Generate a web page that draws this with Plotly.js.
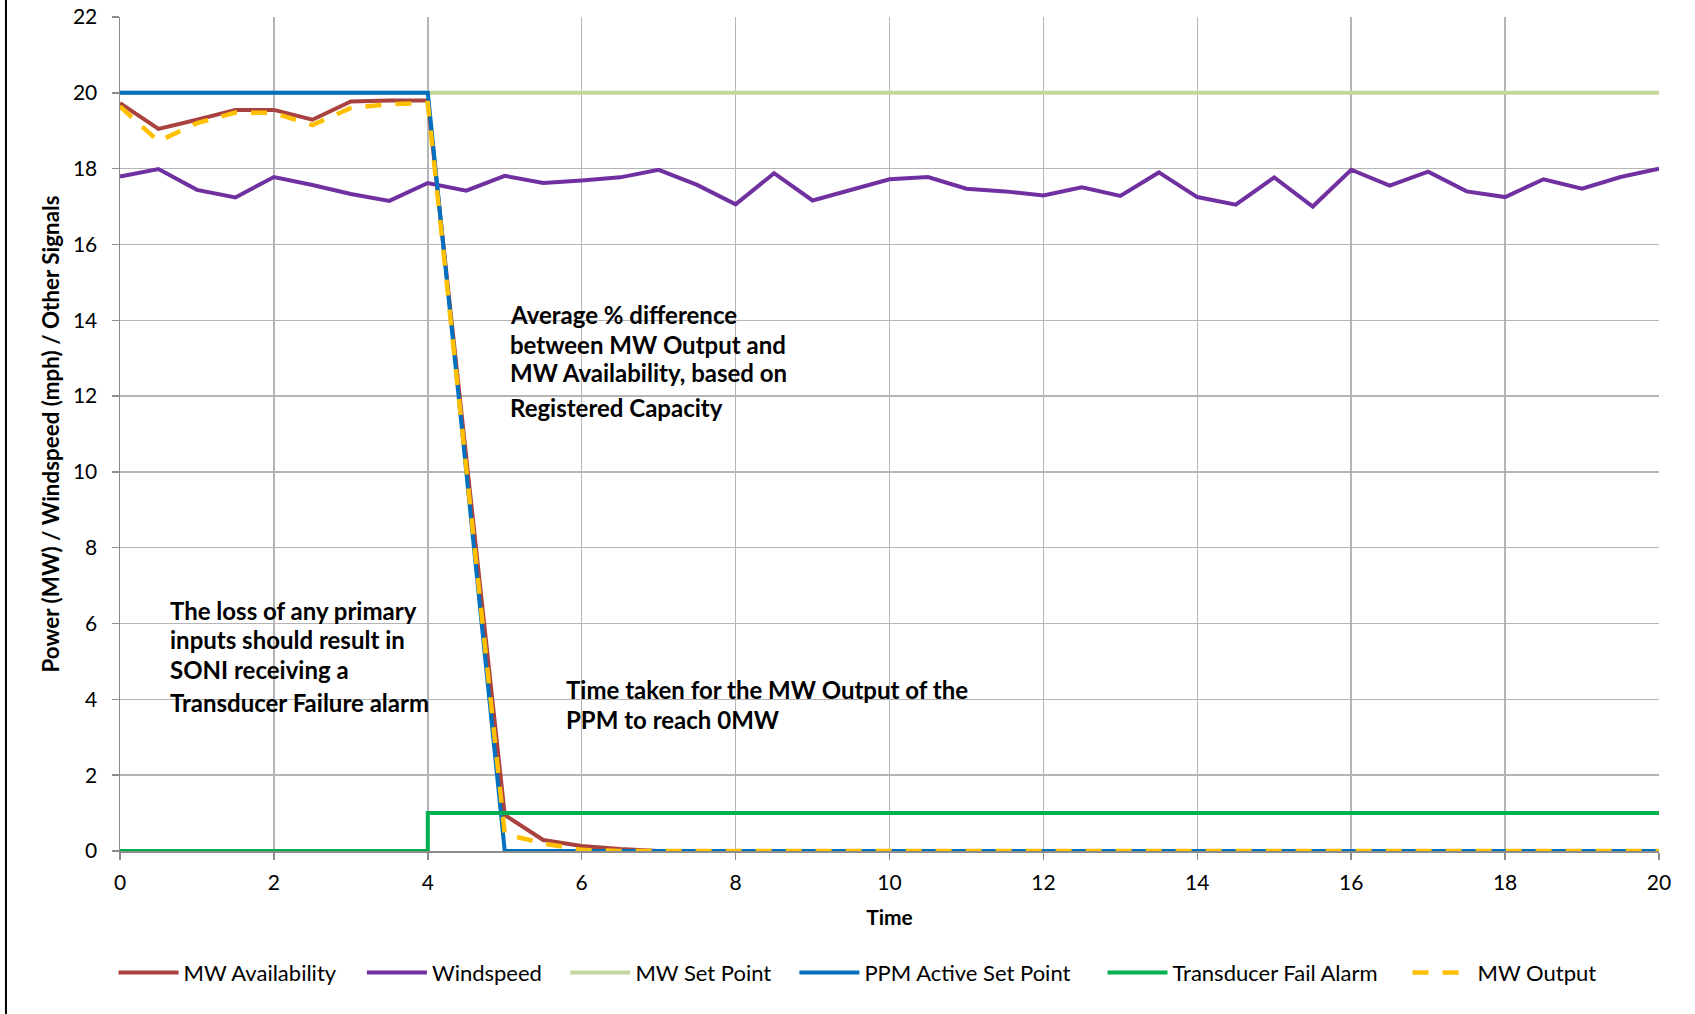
<!DOCTYPE html>
<html>
<head>
<meta charset="utf-8">
<script src="https://cdn.plot.ly/plotly-3.0.1.min.js"></script>
<style>
html,body{margin:0;padding:0;background:#fff;}
#chart{width:1695px;height:1014px;}
</style>
</head>
<body>
<div id="chart"></div>
<script>
const time = [0,0.5,1,1.5,2,2.5,3,3.5,4,4.5,5,5.5,6,6.5,7,7.5,8,8.5,9,9.5,10,10.5,11,11.5,12,12.5,13,13.5,14,14.5,15,15.5,16,16.5,17,17.5,18,18.5,19,19.5,20];
const mwAvailability = [19.73,19.05,19.29,19.55,19.55,19.29,19.77,19.8,19.8,10.4,0.95,0.29,0.13,0.05,0,0,0,0,0,0,0,0,0,0,0,0,0,0,0,0,0,0,0,0,0,0,0,0,0,0,0];
const windspeed = [17.79,17.99,17.44,17.24,17.78,17.57,17.33,17.15,17.62,17.42,17.81,17.62,17.69,17.77,17.97,17.57,17.06,17.88,17.16,17.44,17.72,17.78,17.47,17.40,17.29,17.51,17.28,17.9,17.25,17.05,17.77,17.0,17.97,17.55,17.92,17.40,17.25,17.72,17.47,17.78,18.0];
const mwSetPoint = [20,20,20,20,20,20,20,20,20,20,20,20,20,20,20,20,20,20,20,20,20,20,20,20,20,20,20,20,20,20,20,20,20,20,20,20,20,20,20,20,20];
const ppmActiveSetPoint = [20,20,20,20,20,20,20,20,20,10,0,0,0,0,0,0,0,0,0,0,0,0,0,0,0,0,0,0,0,0,0,0,0,0,0,0,0,0,0,0,0];
const transducerFailAlarm = [0,0,0,0,0,0,0,0,1,1,1,1,1,1,1,1,1,1,1,1,1,1,1,1,1,1,1,1,1,1,1,1,1,1,1,1,1,1,1,1,1];
const mwOutput = [19.64,18.72,19.2,19.48,19.47,19.15,19.6,19.7,19.73,10.2,0.45,0.2,0.03,0,0,0,0,0,0,0,0,0,0,0,0,0,0,0,0,0,0,0,0,0,0,0,0,0,0,0,0];

const seriesNames = ['MW Availability','Windspeed','MW Set Point','PPM Active Set Point','Transducer Fail Alarm','MW Output'];
const seriesColors = ['#A9423F','#7030A0','#C3D69B','#0070C0','#00B050','#FFC000'];

const noteAverage = ['Average % difference','between MW Output and','MW Availability, based on','Registered Capacity'];
const noteAverageX = 5.04;
const noteAverageY = [14.15,13.35,12.61,11.69];
const noteLoss = ['The loss of any primary','inputs should result in','SONI receiving a','Transducer Failure alarm'];
const noteLossX = 0.63;
const noteLossY = [6.34,5.58,4.80,3.91];
const noteTime = ['Time taken for the MW Output of the','PPM to reach 0MW'];
const noteTimeX = 5.77;
const noteTimeY = [4.27,3.46];

const FONT = 'Lato, Carlito, Calibri, sans-serif';
const legendIds = ['legend','legend2','legend3','legend4','legend5','legend6'];
const legendX = [-0.0042, 0.1572, 0.2894, 0.4382, 0.6384, 0.8366];

const series = [mwAvailability, windspeed, mwSetPoint, ppmActiveSetPoint, transducerFailAlarm, mwOutput];
const traces = series.map((vals, i) => ({
  x: time, y: vals, name: seriesNames[i], mode: 'lines', legend: legendIds[i],
  line: {color: seriesColors[i], width: 4}
}));
traces[4].line.shape = 'hv';
traces[5].line.width = 4.5;
traces[5].line.dash = '16px,14px';

const annotations = [];
function addNote(lines, x, ys) {
  lines.forEach((t, i) => annotations.push({
    text: t, x: x, y: ys[i], xref: 'x', yref: 'y', xanchor: 'left', yanchor: 'middle',
    showarrow: false, font: {family: FONT, size: 24, color: '#000', weight: 'bold'}
  }));
}
addNote(noteAverage, noteAverageX, noteAverageY);
addNote(noteLoss, noteLossX, noteLossY);
addNote(noteTime, noteTimeX, noteTimeY);

const layout = {
  width: 1695, height: 1014,
  margin: {l: 120, r: 36, t: 17, b: 163},
  paper_bgcolor: '#fff', plot_bgcolor: '#fff',
  font: {family: FONT, size: 20, color: '#000'},
  showlegend: true,
  xaxis: {
    range: [0, 20], dtick: 2, tick0: 0, showgrid: true, gridcolor: '#B5B5B5', gridwidth: 1.5,
    showline: true, linecolor: '#8C8C8C', linewidth: 1.5, zeroline: false,
    ticks: 'outside', ticklen: 7, tickcolor: '#8C8C8C', tickwidth: 1.5,
    tickfont: {family: FONT, size: 21, color: '#000'}, ticklabelstandoff: 5,
    title: {text: 'Time', font: {family: FONT, size: 21, color: '#000', weight: 'bold'}, standoff: 17}
  },
  yaxis: {
    range: [0, 22], dtick: 2, tick0: 0, showgrid: true, gridcolor: '#B5B5B5', gridwidth: 1.5,
    showline: true, linecolor: '#8C8C8C', linewidth: 1.5, zeroline: false,
    ticks: 'outside', ticklen: 7, tickcolor: '#8C8C8C', tickwidth: 1.5,
    tickfont: {family: FONT, size: 21, color: '#000'}, ticklabelstandoff: 10,
    title: {text: 'Power (MW) / Windspeed (mph) / Other Signals', font: {family: FONT, size: 22.4, color: '#000', weight: 'bold'}, standoff: 7}
  },
  annotations: annotations,
  shapes: [
    {type: 'line', xref: 'paper', yref: 'paper', x0: -0.0741, x1: -0.0741, y0: -0.2, y1: 1.03,
     line: {color: '#000', width: 2}}
  ]
};
legendIds.forEach((id, i) => {
  layout[id] = {orientation: 'h', x: legendX[i], xanchor: 'left', y: -0.146, yanchor: 'middle',
    bgcolor: 'rgba(0,0,0,0)', font: {family: FONT, size: 22, color: '#000'}, itemwidth: 60};
});

Plotly.newPlot('chart', traces, layout, {displayModeBar: false, staticPlot: true});
</script>
</body>
</html>
